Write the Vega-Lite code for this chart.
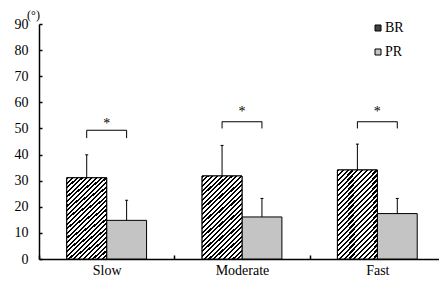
{
  "$schema": "https://vega.github.io/schema/vega-lite/v6.json",
  "width": 400,
  "height": 235,
  "autosize": "none",
  "padding": {"left": 39, "top": 24, "right": 0, "bottom": 28},
  "background": "white",
  "config": {
    "view": {"stroke": null},
    "font": "Liberation Serif",
    "axis": {"grid": false, "domainColor": "black", "domainWidth": 1.5, "tickColor": "black", "labelColor": "black", "labelFont": "Liberation Serif", "titleFont": "Liberation Serif", "titleColor": "black"},
    "legend": {"labelFont": "Liberation Serif", "labelFontSize": 14, "labelColor": "black"}
  },
  "datasets": {
    "bars": [
      {"speed": "Slow", "g": "BR", "mean": 31.1, "upper": 39.9},
      {"speed": "Slow", "g": "PR", "mean": 14.8, "upper": 22.5},
      {"speed": "Moderate", "g": "BR", "mean": 31.8, "upper": 43.5},
      {"speed": "Moderate", "g": "PR", "mean": 16.1, "upper": 23.2},
      {"speed": "Fast", "g": "BR", "mean": 34.1, "upper": 44.0},
      {"speed": "Fast", "g": "PR", "mean": 17.4, "upper": 23.2}
    ],
    "legs": [
      {"speed": "Slow", "g": "BR", "lo": 46.3, "hi": 49.3},
      {"speed": "Slow", "g": "PR", "lo": 46.3, "hi": 49.3},
      {"speed": "Moderate", "g": "BR", "lo": 50.0, "hi": 52.6},
      {"speed": "Moderate", "g": "PR", "lo": 50.0, "hi": 52.6},
      {"speed": "Fast", "g": "BR", "lo": 50.0, "hi": 52.6},
      {"speed": "Fast", "g": "PR", "lo": 50.0, "hi": 52.6}
    ],
    "sig": [
      {"speed": "Slow", "hi": 49.3, "star": 51.8, "label": "*"},
      {"speed": "Moderate", "hi": 52.6, "star": 56.4, "label": "*"},
      {"speed": "Fast", "hi": 52.6, "star": 56.4, "label": "*"}
    ]
  },
  "encoding": {
    "x": {
      "field": "speed", "type": "nominal", "sort": ["Slow", "Moderate", "Fast"],
      "scale": {"range": [0, 406], "paddingInner": 0, "paddingOuter": 0},
      "axis": {"title": null, "labelAngle": 0, "labelFontSize": 14, "labelFont": "Liberation Serif", "labelPadding": 8, "tickBand": "extent", "tickSize": -4, "tickWidth": 1.5}
    }
  },
  "layer": [
    {
      "data": {"name": "bars"},
      "mark": {"type": "bar", "stroke": "black", "strokeWidth": 1},
      "encoding": {
        "xOffset": {"field": "g", "type": "nominal", "sort": ["BR", "PR"], "scale": {"paddingInner": 0, "paddingOuter": 0.696}},
        "y": {"field": "mean", "type": "quantitative", "title": "(°)", "scale": {"domain": [0, 90], "nice": false},
              "axis": {"values": [0, 10, 20, 30, 40, 50, 60, 70, 80, 90], "labelFont": "Liberation Serif", "labelFontSize": 14, "labelPadding": 14, "tickSize": -3, "tickWidth": 1.5, "titleAngle": 0, "titleX": -6, "titleY": -10, "titleAlign": "center", "titleBaseline": "middle", "titleFontSize": 12, "titleFontWeight": "normal", "titleFont": "Liberation Serif"}},
        "fill": {"field": "g", "type": "nominal", "sort": ["BR", "PR"], "scale": {"range": ["#444444", "#c4c4c4"]},
                 "legend": {"title": null, "orient": "none", "legendX": 332, "legendY": -3, "padding": 0, "symbolType": "square", "symbolSize": 36, "symbolStrokeColor": "black", "symbolStrokeWidth": 1, "labelFontSize": 14, "labelFont": "Liberation Serif", "labelColor": "black", "rowPadding": 10, "labelOffset": 0}}
      }
    },
    {
      "data": {"name": "bars"},
      "transform": [{"filter": "datum.g === 'BR'"}],
      "mark": {"type": "bar", "stroke": "black", "strokeWidth": 1,
        "fill": {"gradient": "linear", "x1": 0, "y1": 0, "x2": 0.56, "y2": 1.2, "stops": [
          {"offset": 0, "color": "#000"}, {"offset": 0.0173, "color": "#000"}, {"offset": 0.0173, "color": "#fff"}, {"offset": 0.0385, "color": "#fff"},
          {"offset": 0.0385, "color": "#000"}, {"offset": 0.0558, "color": "#000"}, {"offset": 0.0558, "color": "#fff"}, {"offset": 0.0769, "color": "#fff"},
          {"offset": 0.0769, "color": "#000"}, {"offset": 0.0942, "color": "#000"}, {"offset": 0.0942, "color": "#fff"}, {"offset": 0.1154, "color": "#fff"},
          {"offset": 0.1154, "color": "#000"}, {"offset": 0.1327, "color": "#000"}, {"offset": 0.1327, "color": "#fff"}, {"offset": 0.1538, "color": "#fff"},
          {"offset": 0.1538, "color": "#000"}, {"offset": 0.1711, "color": "#000"}, {"offset": 0.1711, "color": "#fff"}, {"offset": 0.1923, "color": "#fff"},
          {"offset": 0.1923, "color": "#000"}, {"offset": 0.2096, "color": "#000"}, {"offset": 0.2096, "color": "#fff"}, {"offset": 0.2308, "color": "#fff"},
          {"offset": 0.2308, "color": "#000"}, {"offset": 0.2481, "color": "#000"}, {"offset": 0.2481, "color": "#fff"}, {"offset": 0.2692, "color": "#fff"},
          {"offset": 0.2692, "color": "#000"}, {"offset": 0.2865, "color": "#000"}, {"offset": 0.2865, "color": "#fff"}, {"offset": 0.3077, "color": "#fff"},
          {"offset": 0.3077, "color": "#000"}, {"offset": 0.3250, "color": "#000"}, {"offset": 0.3250, "color": "#fff"}, {"offset": 0.3462, "color": "#fff"},
          {"offset": 0.3462, "color": "#000"}, {"offset": 0.3635, "color": "#000"}, {"offset": 0.3635, "color": "#fff"}, {"offset": 0.3846, "color": "#fff"},
          {"offset": 0.3846, "color": "#000"}, {"offset": 0.4019, "color": "#000"}, {"offset": 0.4019, "color": "#fff"}, {"offset": 0.4231, "color": "#fff"},
          {"offset": 0.4231, "color": "#000"}, {"offset": 0.4404, "color": "#000"}, {"offset": 0.4404, "color": "#fff"}, {"offset": 0.4615, "color": "#fff"},
          {"offset": 0.4615, "color": "#000"}, {"offset": 0.4788, "color": "#000"}, {"offset": 0.4788, "color": "#fff"}, {"offset": 0.5, "color": "#fff"},
          {"offset": 0.5, "color": "#000"}, {"offset": 0.5173, "color": "#000"}, {"offset": 0.5173, "color": "#fff"}, {"offset": 0.5385, "color": "#fff"},
          {"offset": 0.5385, "color": "#000"}, {"offset": 0.5558, "color": "#000"}, {"offset": 0.5558, "color": "#fff"}, {"offset": 0.5769, "color": "#fff"},
          {"offset": 0.5769, "color": "#000"}, {"offset": 0.5942, "color": "#000"}, {"offset": 0.5942, "color": "#fff"}, {"offset": 0.6154, "color": "#fff"},
          {"offset": 0.6154, "color": "#000"}, {"offset": 0.6327, "color": "#000"}, {"offset": 0.6327, "color": "#fff"}, {"offset": 0.6538, "color": "#fff"},
          {"offset": 0.6538, "color": "#000"}, {"offset": 0.6711, "color": "#000"}, {"offset": 0.6711, "color": "#fff"}, {"offset": 0.6923, "color": "#fff"},
          {"offset": 0.6923, "color": "#000"}, {"offset": 0.7096, "color": "#000"}, {"offset": 0.7096, "color": "#fff"}, {"offset": 0.7308, "color": "#fff"},
          {"offset": 0.7308, "color": "#000"}, {"offset": 0.7481, "color": "#000"}, {"offset": 0.7481, "color": "#fff"}, {"offset": 0.7692, "color": "#fff"},
          {"offset": 0.7692, "color": "#000"}, {"offset": 0.7865, "color": "#000"}, {"offset": 0.7865, "color": "#fff"}, {"offset": 0.8077, "color": "#fff"},
          {"offset": 0.8077, "color": "#000"}, {"offset": 0.8250, "color": "#000"}, {"offset": 0.8250, "color": "#fff"}, {"offset": 0.8462, "color": "#fff"},
          {"offset": 0.8462, "color": "#000"}, {"offset": 0.8635, "color": "#000"}, {"offset": 0.8635, "color": "#fff"}, {"offset": 0.8846, "color": "#fff"},
          {"offset": 0.8846, "color": "#000"}, {"offset": 0.9019, "color": "#000"}, {"offset": 0.9019, "color": "#fff"}, {"offset": 0.9231, "color": "#fff"},
          {"offset": 0.9231, "color": "#000"}, {"offset": 0.9404, "color": "#000"}, {"offset": 0.9404, "color": "#fff"}, {"offset": 0.9615, "color": "#fff"},
          {"offset": 0.9615, "color": "#000"}, {"offset": 0.9788, "color": "#000"}, {"offset": 0.9788, "color": "#fff"}, {"offset": 1, "color": "#fff"}
        ]}},
      "encoding": {
        "xOffset": {"field": "g", "type": "nominal", "sort": ["BR", "PR"]},
        "y": {"field": "mean", "type": "quantitative", "title": "(°)", "axis": {"values": [0, 10, 20, 30, 40, 50, 60, 70, 80, 90], "labelFont": "Liberation Serif", "labelFontSize": 14, "labelPadding": 14, "tickSize": -3, "tickWidth": 1.5, "titleAngle": 0, "titleX": -6, "titleY": -10, "titleAlign": "center", "titleBaseline": "middle", "titleFontSize": 12, "titleFontWeight": "normal", "titleFont": "Liberation Serif"}}
      }
    },
    {
      "data": {"name": "bars"},
      "mark": {"type": "rule", "color": "black", "strokeWidth": 1},
      "encoding": {
        "xOffset": {"field": "g", "type": "nominal", "sort": ["BR", "PR"]},
        "y": {"field": "mean", "type": "quantitative", "title": "(°)", "axis": {"values": [0, 10, 20, 30, 40, 50, 60, 70, 80, 90], "labelFont": "Liberation Serif", "labelFontSize": 14, "labelPadding": 14, "tickSize": -3, "tickWidth": 1.5, "titleAngle": 0, "titleX": -6, "titleY": -10, "titleAlign": "center", "titleBaseline": "middle", "titleFontSize": 12, "titleFontWeight": "normal", "titleFont": "Liberation Serif"}},
        "y2": {"field": "upper"}
      }
    },
    {
      "data": {"name": "bars"},
      "mark": {"type": "tick", "color": "black", "size": 3, "thickness": 1, "opacity": 1},
      "encoding": {
        "xOffset": {"field": "g", "type": "nominal", "sort": ["BR", "PR"]},
        "y": {"field": "upper", "type": "quantitative", "title": "(°)", "axis": {"values": [0, 10, 20, 30, 40, 50, 60, 70, 80, 90], "labelFont": "Liberation Serif", "labelFontSize": 14, "labelPadding": 14, "tickSize": -3, "tickWidth": 1.5, "titleAngle": 0, "titleX": -6, "titleY": -10, "titleAlign": "center", "titleBaseline": "middle", "titleFontSize": 12, "titleFontWeight": "normal", "titleFont": "Liberation Serif"}}
      }
    },
    {
      "data": {"name": "legs"},
      "mark": {"type": "rule", "color": "black", "strokeWidth": 1},
      "encoding": {
        "xOffset": {"field": "g", "type": "nominal", "sort": ["BR", "PR"]},
        "y": {"field": "lo", "type": "quantitative", "title": "(°)", "axis": {"values": [0, 10, 20, 30, 40, 50, 60, 70, 80, 90], "labelFont": "Liberation Serif", "labelFontSize": 14, "labelPadding": 14, "tickSize": -3, "tickWidth": 1.5, "titleAngle": 0, "titleX": -6, "titleY": -10, "titleAlign": "center", "titleBaseline": "middle", "titleFontSize": 12, "titleFontWeight": "normal", "titleFont": "Liberation Serif"}},
        "y2": {"field": "hi"}
      }
    },
    {
      "data": {"name": "sig"},
      "mark": {"type": "tick", "color": "black", "size": 40, "thickness": 1, "opacity": 1},
      "encoding": {
        "y": {"field": "hi", "type": "quantitative", "title": "(°)", "axis": {"values": [0, 10, 20, 30, 40, 50, 60, 70, 80, 90], "labelFont": "Liberation Serif", "labelFontSize": 14, "labelPadding": 14, "tickSize": -3, "tickWidth": 1.5, "titleAngle": 0, "titleX": -6, "titleY": -10, "titleAlign": "center", "titleBaseline": "middle", "titleFontSize": 12, "titleFontWeight": "normal", "titleFont": "Liberation Serif"}}
      }
    },
    {
      "data": {"name": "sig"},
      "mark": {"type": "text", "fontSize": 14, "font": "Liberation Serif", "fill": "black", "baseline": "middle", "align": "center"},
      "encoding": {
        "y": {"field": "star", "type": "quantitative", "title": "(°)", "axis": {"values": [0, 10, 20, 30, 40, 50, 60, 70, 80, 90], "labelFont": "Liberation Serif", "labelFontSize": 14, "labelPadding": 14, "tickSize": -3, "tickWidth": 1.5, "titleAngle": 0, "titleX": -6, "titleY": -10, "titleAlign": "center", "titleBaseline": "middle", "titleFontSize": 12, "titleFontWeight": "normal", "titleFont": "Liberation Serif"}},
        "text": {"field": "label"}
      }
    }
  ]
}
